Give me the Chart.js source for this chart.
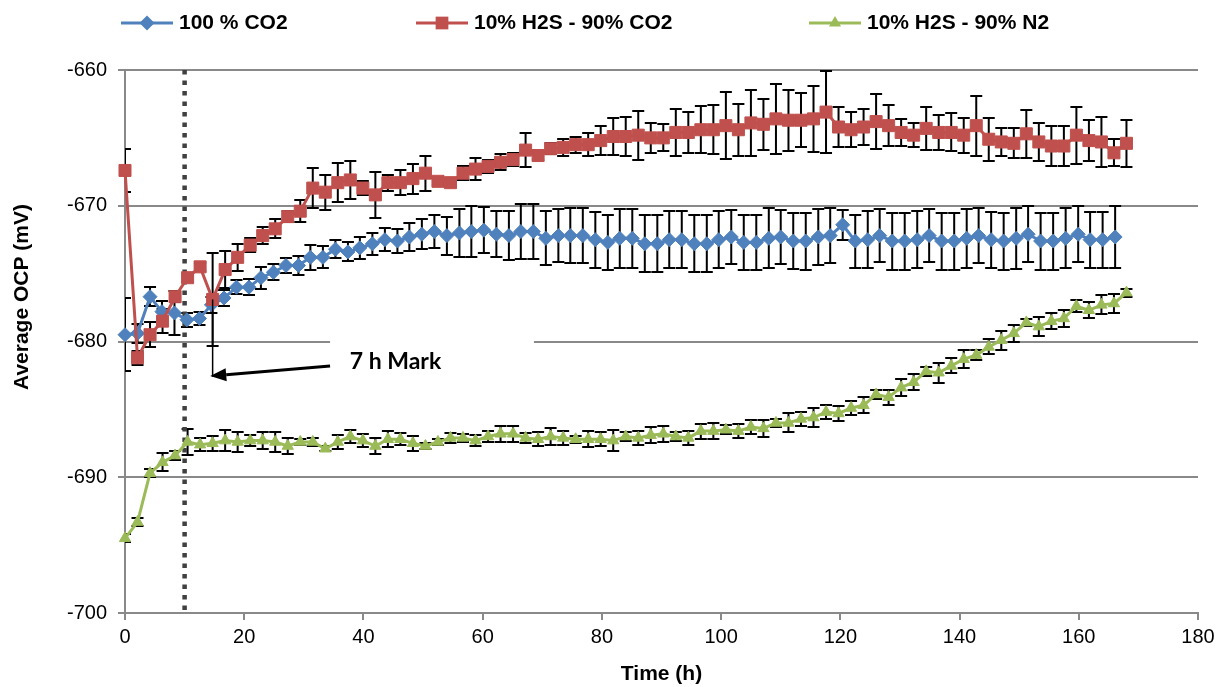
<!DOCTYPE html>
<html>
<head>
<meta charset="utf-8">
<title>Average OCP vs time</title>
<script src="https://cdn.jsdelivr.net/npm/chart.js@4.4.1/dist/chart.umd.min.js"></script>
<style>
  body { margin: 0; background: #fff; }
  canvas { display: block; }
</style>
</head>
<body>
<canvas id="ocpChart" width="1230" height="687"></canvas>
<script>
const seriesNames = ["100 % CO2", "10% H2S - 90% CO2", "10% H2S - 90% N2"];

// sampling times (h) of each run
const hoursCO2 = [
  0, 2.1, 4.2, 6.2, 8.3, 10.4, 12.5, 14.5, 16.6, 18.7,
  20.8, 22.8, 24.9, 27.0, 29.1, 31.1, 33.2, 35.3, 37.4, 39.4,
  41.5, 43.6, 45.7, 47.7, 49.8, 51.9, 54.0, 56.1, 58.1, 60.2,
  62.3, 64.4, 66.4, 68.5, 70.6, 72.7, 74.7, 76.8, 78.9, 81.0,
  83.0, 85.1, 87.2, 89.3, 91.3, 93.4, 95.5, 97.6, 99.6, 101.7,
  103.8, 105.9, 108.0, 110.0, 112.1, 114.2, 116.3, 118.3, 120.4, 122.5,
  124.6, 126.6, 128.7, 130.8, 132.9, 134.9, 137.0, 139.1, 141.2, 143.2,
  145.3, 147.4, 149.5, 151.5, 153.6, 155.7, 157.8, 159.9, 161.9, 164.0,
  166.1
];
const hoursH2S = [
  0, 2.1, 4.2, 6.3, 8.4, 10.5, 12.6, 14.7, 16.8, 18.9,
  21, 23.1, 25.2, 27.3, 29.4, 31.5, 33.6, 35.7, 37.8, 39.9,
  42, 44.1, 46.2, 48.3, 50.4, 52.5, 54.6, 56.7, 58.8, 60.9,
  63, 65.1, 67.2, 69.3, 71.4, 73.5, 75.6, 77.7, 79.8, 81.9,
  84, 86.1, 88.2, 90.3, 92.4, 94.5, 96.6, 98.7, 100.8, 102.9,
  105, 107.1, 109.2, 111.3, 113.4, 115.5, 117.6, 119.7, 121.8, 123.9,
  126, 128.1, 130.2, 132.3, 134.4, 136.5, 138.6, 140.7, 142.8, 144.9,
  147, 149.1, 151.2, 153.3, 155.4, 157.5, 159.6, 161.7, 163.8, 165.9,
  168
];

// mean OCP (mV) and standard deviation per reading
const co2Mean = [
  -679.5, -679.4, -676.7, -677.8, -677.9, -678.4, -678.3, -677.3, -676.8, -676.0,
  -676.0, -675.3, -674.9, -674.4, -674.4, -673.8, -673.8, -673.2, -673.4, -673.1,
  -672.8, -672.5, -672.6, -672.3, -672.1, -671.9, -672.2, -672.0, -671.9, -671.8,
  -672.1, -672.2, -671.9, -671.9, -672.4, -672.2, -672.2, -672.2, -672.5, -672.7,
  -672.4, -672.4, -672.8, -672.8, -672.5, -672.5, -672.8, -672.8, -672.5, -672.3,
  -672.7, -672.7, -672.4, -672.3, -672.6, -672.6, -672.3, -672.2, -671.4, -672.6,
  -672.5, -672.2, -672.6, -672.6, -672.5, -672.2, -672.6, -672.6, -672.4, -672.2,
  -672.5, -672.6, -672.4, -672.1, -672.6, -672.6, -672.4, -672.1, -672.5, -672.5,
  -672.3
];
const co2Err = [
  2.7, 0.7, 0.7, 0.8, 1.6, 0.5, 0.5, 0.6, 0.6, 0.5,
  0.6, 0.8, 0.6, 0.55, 0.7, 0.9, 0.8, 0.65, 0.7, 0.8,
  0.8, 0.85, 0.9, 1.0, 1.1, 1.2, 1.4, 1.75, 1.9, 1.7,
  1.7, 1.8, 2.0, 2.0, 2.0, 1.95, 2.0, 2.0, 2.05, 2.0,
  2.15, 2.15, 2.1, 2.1, 2.1, 2.1, 2.1, 2.1, 2.1, 2.0,
  2.05, 2.05, 2.2, 2.0, 2.05, 2.1, 2.05, 2.05, 1.1, 1.95,
  2.1, 1.95, 2.1, 2.1, 2.1, 1.95, 2.1, 2.1, 2.15, 2.0,
  2.05, 2.1, 2.25, 2.05, 2.1, 2.1, 2.2, 2.05, 2.05, 2.05,
  2.25
];

const h2sCo2Mean = [
  -667.4, -681.2, -679.5, -678.5, -676.7, -675.3, -674.5, -676.9, -674.7, -673.8,
  -672.9, -672.2, -671.7, -670.8, -670.4, -668.7, -669.0, -668.3, -668.1, -668.7,
  -669.2, -668.3, -668.3, -668.0, -667.6, -668.2, -668.3, -667.6, -667.3, -667.1,
  -666.8, -666.6, -665.9, -666.3, -665.8, -665.7, -665.5, -665.5, -665.2, -664.9,
  -664.9, -664.8, -665.0, -665.0, -664.6, -664.6, -664.4, -664.4, -664.1, -664.4,
  -663.9, -664.0, -663.6, -663.7, -663.7, -663.6, -663.1, -664.2, -664.4, -664.2,
  -663.8, -664.1, -664.6, -664.8, -664.3, -664.6, -664.6, -664.8, -664.1, -665.1,
  -665.3, -665.4, -664.7, -665.3, -665.6, -665.6, -664.8, -665.2, -665.3, -666.1,
  -665.4
];
const h2sCo2Err = [
  1.6, 0.5, 0.9, 0.9, 0.4, 0.3, 0.3, 3.4, 1.35, 1.0,
  0.5, 0.6, 0.7, 0.4, 0.8, 1.5, 1.3, 1.45, 1.4, 0.5,
  1.7, 0.6, 0.9, 1.1, 1.3, 0.3, 0.3, 0.5, 0.8, 0.5,
  0.6, 0.5, 1.25, 0.3, 0.4, 0.6, 0.6, 0.85, 1.05, 1.35,
  1.45, 1.8, 1.1, 1.0, 1.7, 1.5, 1.75, 1.8, 2.45, 1.9,
  2.4, 1.9, 2.6, 2.25, 2.0, 2.45, 3.0, 1.5, 1.3, 1.35,
  2.05, 1.5, 1.0, 0.9, 1.6, 1.3, 1.4, 1.3, 2.2, 1.6,
  1.05, 1.1, 1.75, 1.4, 1.5, 1.45, 2.1, 1.5, 1.85, 1.0,
  1.75
];

const h2sN2Mean = [
  -694.5, -693.3, -689.7, -688.9, -688.4, -687.4, -687.6, -687.5, -687.3, -687.4,
  -687.3, -687.3, -687.4, -687.7, -687.4, -687.4, -687.9, -687.4, -687.0, -687.3,
  -687.7, -687.2, -687.2, -687.5, -687.7, -687.4, -687.1, -687.1, -687.3, -687.0,
  -686.8, -686.8, -687.1, -687.2, -687.0, -687.1, -687.2, -687.2, -687.2, -687.3,
  -687.0, -687.1, -686.9, -686.8, -687.0, -687.1, -686.6, -686.6, -686.5, -686.6,
  -686.3, -686.4, -686.0, -686.0, -685.7, -685.6, -685.2, -685.3, -684.9, -684.7,
  -683.9, -684.1, -683.4, -683.0, -682.2, -682.3, -681.8, -681.3, -681.0, -680.4,
  -679.9, -679.4, -678.6, -678.9, -678.5, -678.3, -677.4, -677.7, -677.3, -677.2,
  -676.4
];
const h2sN2Err = [
  0.3, 0.3, 0.3, 0.65, 0.3, 0.95, 0.5, 0.55, 0.75, 0.75,
  0.4, 0.6, 0.75, 0.6, 0.2, 0.3, 0.2, 0.5, 0.5, 0.5,
  0.6, 0.6, 0.45, 0.55, 0.2, 0.2, 0.35, 0.3, 0.4, 0.4,
  0.6, 0.6, 0.35, 0.5, 0.6, 0.5, 0.25, 0.6, 0.5, 0.75,
  0.35, 0.5, 0.6, 0.6, 0.35, 0.5, 0.55, 0.6, 0.35, 0.5,
  0.55, 0.6, 0.3, 0.7, 0.5, 0.7, 0.5, 0.55, 0.55, 0.6,
  0.35, 0.55, 0.65, 0.6, 0.35, 0.75, 0.55, 0.65, 0.35, 0.55,
  0.7, 0.6, 0.25, 0.7, 0.6, 0.65, 0.45, 0.6, 0.7, 0.7,
  0.3
];

// 7 h mark annotation
const markHour = 10;
const markText = "7 h Mark";

const GRID = "#898989";
const FONT = "'Liberation Sans', Arial, sans-serif";

function pairs(hours, values) {
  return hours.map((h, i) => ({ x: h, y: values[i] }));
}

function series(label, hours, mean, err, color, style, radius, order) {
  return {
    label,
    data: pairs(hours, mean),
    errors: err,
    borderColor: color,
    backgroundColor: color,
    pointBackgroundColor: color,
    pointBorderColor: color,
    pointBorderWidth: 1,
    pointStyle: style,
    pointRadius: radius,
    borderWidth: 3,
    tension: 0,
    fill: false,
    clip: false,
    order,
  };
}

function marker(ctx, style, x, y, r) {
  ctx.beginPath();
  if (style === "rectRot") {
    ctx.moveTo(x, y - r);
    ctx.lineTo(x + r, y);
    ctx.lineTo(x, y + r);
    ctx.lineTo(x - r, y);
  } else if (style === "rect") {
    const s = r * Math.SQRT1_2;
    ctx.rect(x - s, y - s, 2 * s, 2 * s);
  } else {
    ctx.moveTo(x, y - r);
    ctx.lineTo(x + r * 0.866, y + r * 0.5);
    ctx.lineTo(x - r * 0.866, y + r * 0.5);
  }
  ctx.closePath();
  ctx.fill();
}

// error bars, marker line and the white label box go under the series
const underlay = {
  id: "underlay",
  beforeDatasetsDraw(chart) {
    const { ctx, chartArea: area, scales: { x, y } } = chart;
    ctx.save();

    ctx.fillStyle = "#fff";
    const bx0 = x.getPixelForValue(34.4), bx1 = x.getPixelForValue(68.6);
    const by0 = y.getPixelForValue(-679.75), by1 = y.getPixelForValue(-683.6);
    ctx.fillRect(bx0, by0, bx1 - bx0, by1 - by0);

    ctx.beginPath();
    ctx.rect(area.left, 0, area.right - area.left + 20, chart.height);
    ctx.clip();

    ctx.strokeStyle = "#000";
    ctx.lineWidth = 2;
    chart.data.datasets.forEach((ds, di) => {
      const meta = chart.getDatasetMeta(di);
      meta.data.forEach((pt, i) => {
        const v = ds.data[i].y, e = ds.errors[i];
        const top = Math.round(y.getPixelForValue(v + e));
        const bot = Math.round(y.getPixelForValue(v - e));
        ctx.beginPath();
        ctx.moveTo(pt.x, top);
        ctx.lineTo(pt.x, bot);
        ctx.moveTo(pt.x - 6, top);
        ctx.lineTo(pt.x + 6, top);
        ctx.moveTo(pt.x - 6, bot);
        ctx.lineTo(pt.x + 6, bot);
        ctx.stroke();
      });
    });

    const mx = x.getPixelForValue(markHour);
    ctx.strokeStyle = "#404040";
    ctx.lineWidth = 4.5;
    ctx.setLineDash([4.5, 6]);
    ctx.beginPath();
    ctx.moveTo(mx, area.top);
    ctx.lineTo(mx, area.bottom);
    ctx.stroke();
    ctx.restore();
  },

  afterDatasetsDraw(chart) {
    const { ctx, scales: { x, y } } = chart;
    ctx.save();
    ctx.strokeStyle = "#000";
    ctx.fillStyle = "#000";

    // pointer line dropped from the dip of the H2S/CO2 run
    const lx = x.getPixelForValue(hoursH2S[7]);
    ctx.lineWidth = 1.5;
    ctx.beginPath();
    ctx.moveTo(lx, y.getPixelForValue(h2sCo2Mean[7]));
    ctx.lineTo(lx, y.getPixelForValue(-682.6));
    ctx.stroke();

    // arrow from the label to the pointer line
    const ax0 = x.getPixelForValue(34.4), ay0 = y.getPixelForValue(-681.8);
    const ax1 = x.getPixelForValue(14.3), ay1 = y.getPixelForValue(-682.55);
    const ang = Math.atan2(ay1 - ay0, ax1 - ax0);
    const head = 16, half = 6.5;
    const bxh = ax1 - head * Math.cos(ang), byh = ay1 - head * Math.sin(ang);
    ctx.lineWidth = 3;
    ctx.beginPath();
    ctx.moveTo(ax0, ay0);
    ctx.lineTo(bxh, byh);
    ctx.stroke();
    ctx.beginPath();
    ctx.moveTo(ax1, ay1);
    ctx.lineTo(bxh + half * Math.sin(ang), byh - half * Math.cos(ang));
    ctx.lineTo(bxh - half * Math.sin(ang), byh + half * Math.cos(ang));
    ctx.closePath();
    ctx.fill();

    ctx.font = "bold 23px Lato, 'Open Sans', sans-serif";
    ctx.textBaseline = "alphabetic";
    ctx.fillText(markText, x.getPixelForValue(37.7), y.getPixelForValue(-682.05));
    ctx.restore();
  },

  afterDraw(chart) {
    const ctx = chart.ctx;
    ctx.save();

    // y axis title
    ctx.translate(22, 297);
    ctx.rotate(-Math.PI / 2);
    ctx.font = "bold 21px " + FONT;
    ctx.textAlign = "center";
    ctx.textBaseline = "middle";
    ctx.fillStyle = "#000";
    ctx.fillText("Average OCP (mV)", 0, 0);
    ctx.setTransform(1, 0, 0, 1, 0, 0);

    // legend: line sample with marker, then the name
    const starts = [121, 416, 809];
    const ly = 23;
    chart.data.datasets.forEach((ds, i) => {
      const sx = starts[i];
      ctx.strokeStyle = ds.borderColor;
      ctx.fillStyle = ds.borderColor;
      ctx.lineWidth = 3;
      ctx.beginPath();
      ctx.moveTo(sx, ly);
      ctx.lineTo(sx + 52, ly);
      ctx.stroke();
      marker(ctx, ds.pointStyle, sx + 26, ly, ds.pointRadius + 0.5);
      ctx.fillStyle = "#000";
      ctx.font = "bold 21px " + FONT;
      ctx.textAlign = "left";
      ctx.textBaseline = "middle";
      ctx.fillText(ds.label, sx + 58, ly);
    });
    ctx.restore();
  },
};

new Chart(document.getElementById("ocpChart"), {
  type: "line",
  data: {
    datasets: [
      series(seriesNames[0], hoursCO2, co2Mean, co2Err, "#4f81bd", "rectRot", 7, 3),
      series(seriesNames[1], hoursH2S, h2sCo2Mean, h2sCo2Err, "#c0504d", "rect", 8.5, 2),
      series(seriesNames[2], hoursH2S, h2sN2Mean, h2sN2Err, "#9bbb59", "triangle", 6.5, 1),
    ],
  },
  options: {
    responsive: false,
    animation: false,
    events: [],
    layout: { padding: { top: 70, right: 32, left: 0, bottom: 0 } },
    plugins: {
      legend: { display: false },
      tooltip: { enabled: false },
    },
    scales: {
      x: {
        type: "linear",
        min: 0,
        max: 180,
        ticks: { stepSize: 20, color: "#000", padding: 5, font: { family: FONT, size: 20 } },
        grid: { drawOnChartArea: false, drawTicks: true, tickLength: 7, color: GRID, lineWidth: 2 },
        border: { color: GRID, width: 2 },
        title: {
          display: true,
          text: "Time (h)",
          color: "#000",
          font: { family: FONT, size: 21, weight: "bold" },
          padding: { top: 6, bottom: 0 },
        },
        afterFit(scale) { scale.height = 74; },
      },
      y: {
        min: -700,
        max: -660,
        ticks: { stepSize: 10, color: "#000", padding: 11, font: { family: FONT, size: 20 } },
        grid: { color: GRID, lineWidth: 2, drawTicks: true, tickLength: 7 },
        border: { color: GRID, width: 2 },
        afterFit(scale) { scale.width = 125; },
      },
    },
  },
  plugins: [underlay],
});
</script>
</body>
</html>
